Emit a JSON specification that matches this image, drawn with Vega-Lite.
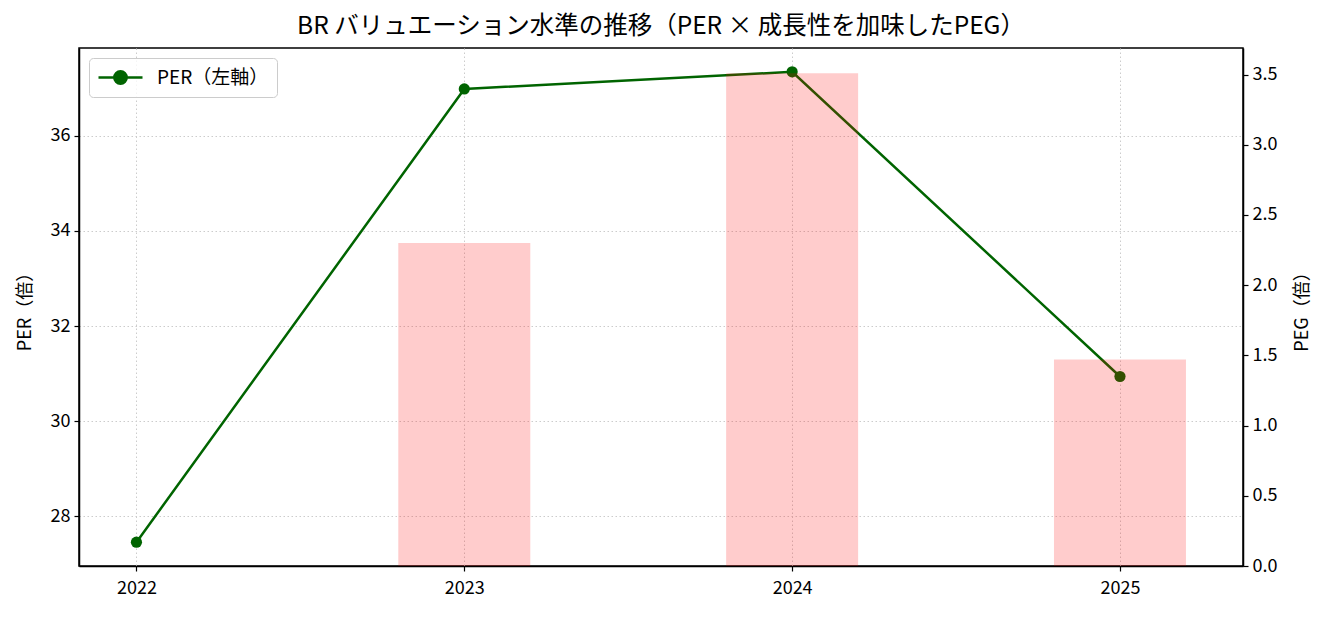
{
  "$schema": "https://vega.github.io/schema/vega-lite/v6.json",
  "autosize": "none",
  "width": 1164,
  "height": 518,
  "padding": {"left": 79, "top": 48, "right": 87, "bottom": 51},
  "background": "white",
  "title": {
    "text": "BR バリュエーション水準の推移（PER × 成長性を加味したPEG）",
    "fontSize": 24.5,
    "fontWeight": "normal",
    "font": "Noto Sans CJK JP",
    "color": "black",
    "offset": 9
  },
  "data": {
    "values": [
      {"year": 2022, "per": 27.46, "peg": null},
      {"year": 2023, "per": 36.98, "peg": 2.30},
      {"year": 2024, "per": 37.34, "peg": 3.51},
      {"year": 2025, "per": 30.94, "peg": 1.47}
    ]
  },
  "encoding": {
    "x": {
      "field": "year",
      "type": "quantitative",
      "scale": {"domain": [2021.84, 2025.36], "nice": false, "zero": false},
      "axis": {
        "values": [2022, 2023, 2024, 2025],
        "format": "d",
        "title": null,
        "grid": true,
        "gridDash": [1.5, 2.5],
        "gridColor": "#cccccc",
        "labelFlush": false,
        "labelPadding": 8
      }
    }
  },
  "layer": [
    {
      "encoding": {
        "y": {
          "field": "per",
          "type": "quantitative",
          "scale": {"domain": [26.96, 37.84], "nice": false, "zero": false},
          "axis": {
            "orient": "left",
            "values": [28, 30, 32, 34, 36],
            "title": "PER（倍）",
            "grid": true,
            "gridDash": [1.5, 2.5],
            "gridColor": "#cccccc",
            "titlePadding": 16
          }
        },
        "color": {
          "datum": "PER（左軸）",
          "scale": {"range": ["#006400"]},
          "legend": {
            "title": null,
            "orient": "top-left",
            "offset": 10,
            "padding": 8,
            "cornerRadius": 4,
            "strokeColor": "#cccccc",
            "fillColor": "rgba(255,255,255,0.8)",
            "symbolType": "M-2.2,0H2.2M-0.62,0A0.62,0.62 0 1,1 0.62,0A0.62,0.62 0 1,1 -0.62,0Z",
            "symbolSize": 400,
            "symbolOffset": 12,
            "symbolStrokeWidth": 2.5,
            "labelFontSize": 19,
            "labelOffset": 25,
            "encode": {
              "symbols": {"update": {"fill": {"value": "#006400"}, "stroke": {"value": "#006400"}, "opacity": {"value": 1}}}
            }
          }
        }
      },
      "layer": [
        {"mark": {"type": "line", "strokeWidth": 2.5}},
        {"mark": {"type": "point", "filled": true, "size": 125, "opacity": 1}}
      ]
    },
    {
      "mark": {"type": "bar", "size": 132, "color": "red", "opacity": 0.2},
      "encoding": {
        "y": {
          "field": "peg",
          "type": "quantitative",
          "scale": {"domain": [0, 3.689], "nice": false},
          "axis": {
            "orient": "right",
            "values": [0, 0.5, 1, 1.5, 2, 2.5, 3, 3.5],
            "format": ".1f",
            "title": "PEG（倍）",
            "titleAngle": -90,
            "titleBaseline": "top",
            "grid": false,
            "titlePadding": 17
          }
        }
      }
    }
  ],
  "resolve": {"scale": {"y": "independent", "color": "independent"}},
  "config": {
    "font": "Noto Sans CJK JP",
    "view": {"stroke": "black", "strokeWidth": 1.5},
    "axis": {
      "domainColor": "black",
      "domainWidth": 1.5,
      "tickColor": "black",
      "tickSize": 5,
      "tickWidth": 1.2,
      "labelColor": "black",
      "labelFontSize": 18,
      "labelPadding": 4,
      "titleColor": "black",
      "titleFontSize": 18,
      "titleFontWeight": "normal"
    },
    "legend": {"labelColor": "black", "labelFont": "Noto Sans CJK JP"}
  }
}
